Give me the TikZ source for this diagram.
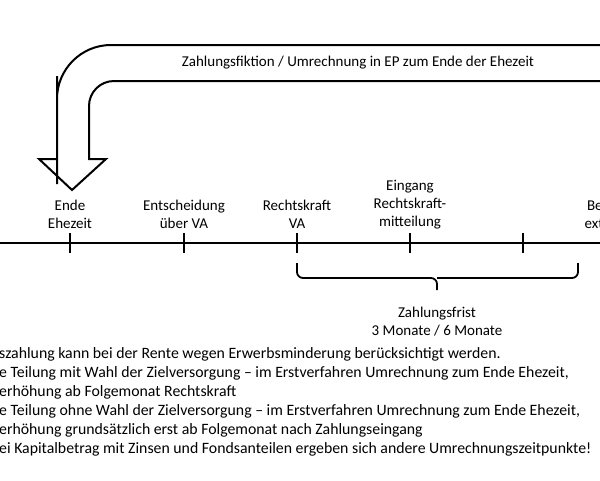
\documentclass[tikz,border=0pt]{standalone}
\usepackage{fontspec}
\setmainfont{Carlito}
\begin{document}
\begin{tikzpicture}[x=1pt,y=-1pt,
  lbl/.style={font=\fontsize{15}{18}\selectfont,align=center,anchor=south,inner sep=0pt},
  txt/.style={font=\fontsize{15.8}{18}\selectfont,anchor=west,inner sep=0pt},
  tick/.style={line width=1.8pt}]
\useasboundingbox (0,0) rectangle (600,480);
\clip (0,0) rectangle (600,480);
% big arrow
\draw[line width=2pt,line join=miter]
  (610,45) [rounded corners=54pt] -| (57,130) [sharp corners] -- (57,159) -- (39,159) -- (72,190) -- (106,159) -- (89,159) -- (89,120) [rounded corners=25pt] |- (610,81);
\node[font=\fontsize{15}{18}\selectfont] (title) at (358,63) {Zahlungsfiktion / Umrechnung in EP zum Ende der Ehezeit};
% timeline
\coordinate (L) at (-5,243); \coordinate (R) at (605,243);
\draw[line width=1.8pt] (L) -- (R);
\foreach \n/\x in {a/70,b/184,c/297,d/410,e/523}{
  \coordinate (\n) at (\x,243);
  \draw[tick] (\x,233) -- (\x,253);}
\node[lbl] (la) at (70,229) {Ende\\Ehezeit};
\node[lbl] (lb) at (184,229) {Entscheidung\\über VA};
\node[lbl] (lc) at (297,229) {Rechtskraft\\VA};
\node[lbl] (ld) at (410,229) {Eingang\\Rechtskraft-\\mitteilung};
\node[lbl] (lf) at (608,229) {Beginn\\externe};
% brace
\coordinate (b1) at (297,263); \coordinate (b2) at (578,263);
\draw[line width=1.8pt,rounded corners=6pt] (b1) |- (437,278) -- (437,290);
\draw[line width=1.8pt,rounded corners=6pt] (b2) |- (437,278);
\node[font=\fontsize{15}{18}\selectfont,align=center] (zf) at (437,322) {Zahlungsfrist\\3 Monate / 6 Monate};
% bottom text
\node[txt] (t1) at (-1,354) {szahlung kann bei der Rente wegen Erwerbsminderung berücksichtigt werden.};
\node[txt] (t2) at (-1,373) {e Teilung mit Wahl der Zielversorgung – im Erstverfahren Umrechnung zum Ende Ehezeit,};
\node[txt] (t3) at (-1,392) {erhöhung ab Folgemonat Rechtskraft};
\node[txt] (t4) at (-1,411) {e Teilung ohne Wahl der Zielversorgung – im Erstverfahren Umrechnung zum Ende Ehezeit,};
\node[txt] (t5) at (-1,430) {erhöhung grundsätzlich erst ab Folgemonat nach Zahlungseingang};
\node[txt] (t6) at (-1,449) {ei Kapitalbetrag mit Zinsen und Fondsanteilen ergeben sich andere Umrechnungszeitpunkte!};
\end{tikzpicture}
\end{document}
